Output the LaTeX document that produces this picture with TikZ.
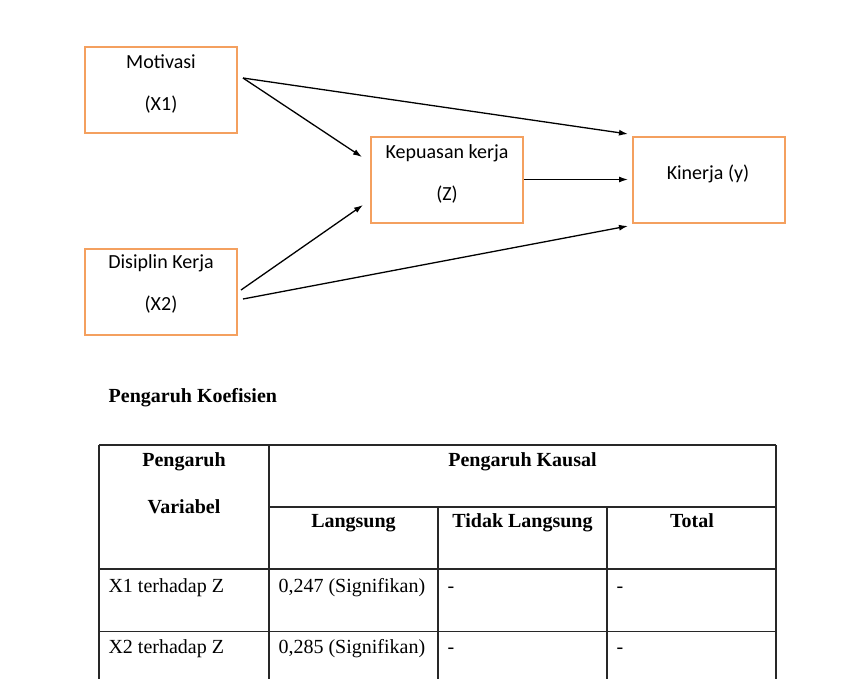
\documentclass[tikz,border=0pt]{standalone}
\usepackage{fontspec}
\setmainfont{Liberation Serif}
\newfontfamily\calib{Carlito}
\usetikzlibrary{arrows.meta,calc}
\definecolor{boxorange}{RGB}{244,160,95}
\definecolor{tablegray}{RGB}{40,40,40}
\begin{document}
\begin{tikzpicture}[x=1pt,y=-1pt,
  varbox/.style={draw=boxorange,line width=2pt,minimum width=152pt,minimum height=86pt,inner sep=0pt},
  blab/.style={font=\calib\fontsize{20}{22}\selectfont,anchor=base,inner sep=0pt},
  link/.style={line width=1.3pt,-{Latex[length=9pt,width=6pt]}},
  tline/.style={line width=1.3pt,draw=tablegray},
  th/.style={font=\bfseries\fontsize{20}{22}\selectfont,anchor=base,inner sep=0pt},
  td/.style={font=\fontsize{20}{22}\selectfont,anchor=base west,inner sep=0pt}]
\useasboundingbox (0,0) rectangle (852,678);
\clip (0,0) rectangle (852,678);
\fill[white] (0,0) rectangle (852,678);

% variable boxes
\node[varbox] (mot) at (161,90) {};
\node[varbox] (kep) at (447,179.5) {};
\node[varbox] (kin) at (709,179.5) {};
\node[varbox] (dis) at (161,291.5) {};

\node[blab] (motA) at (161,68.3) {Motivasi};
\node[blab] (motB) at (161,110) {(X1)};
\node[blab] (kepA) at (447,158.3) {Kepuasan kerja};
\node[blab] (kepB) at (447,200) {(Z)};
\node[blab] (kinA) at (708,179.3) {Kinerja (y)};
\node[blab] (disA) at (161,268.3) {Disiplin Kerja};
\node[blab] (disB) at (161,310) {(X2)};

% connectors
\draw[link] ($(mot.east)+(5,-12)$) -- ($(kin.north west)+(-4,-1.5)$);
\draw[link] ($(mot.east)+(5,-12)$) -- ($(kep.west)+(-8,-22.5)$);
\draw[link] (kep.east) -- ($(kin.west)+(-4,0)$);
\draw[link] ($(dis.east)+(3,-1.5)$) -- ($(kep.west)+(-7,25.5)$);
\draw[link] ($(dis.east)+(5,7.5)$) -- ($(kin.south west)+(-4,2.5)$);

% title
\node[th,anchor=base west] (title) at (108.5,402.7) {Pengaruh Koefisien};

% table grid
\draw[tline] (99,445) -- (776,445);
\draw[tline] (269,507) -- (776,507);
\draw[tline] (99,569) -- (776,569);
\draw[tline] (99,631.5) -- (776,631.5);
\draw[tline] (99,445) -- (99,700);
\draw[tline] (269,445) -- (269,700);
\draw[tline] (438,507) -- (438,700);
\draw[tline] (607,507) -- (607,700);
\draw[tline] (776,445) -- (776,700);

% table headers
\node[th] (h1a) at (184,466) {Pengaruh};
\node[th] (h1b) at (184,513.3) {Variabel};
\node[th] (h2) at (522.5,466) {Pengaruh Kausal};
\node[th] (h3) at (353.5,527.5) {Langsung};
\node[th] (h4) at (522.5,527.5) {Tidak Langsung};
\node[th] (h5) at (692,527.5) {Total};

% table rows
\node[td] (r1a) at (108.3,592.5) {X1 terhadap Z};
\node[td] (r1b) at (278.3,592.5) {0,247 (Signifikan)};
\node[td] (r1c) at (447.5,592.5) {-};
\node[td] (r1d) at (616.5,592.5) {-};
\node[td] (r2a) at (108.3,653.5) {X2 terhadap Z};
\node[td] (r2b) at (278.3,653.5) {0,285 (Signifikan)};
\node[td] (r2c) at (447.5,653.5) {-};
\node[td] (r2d) at (616.5,653.5) {-};
\end{tikzpicture}
\end{document}
